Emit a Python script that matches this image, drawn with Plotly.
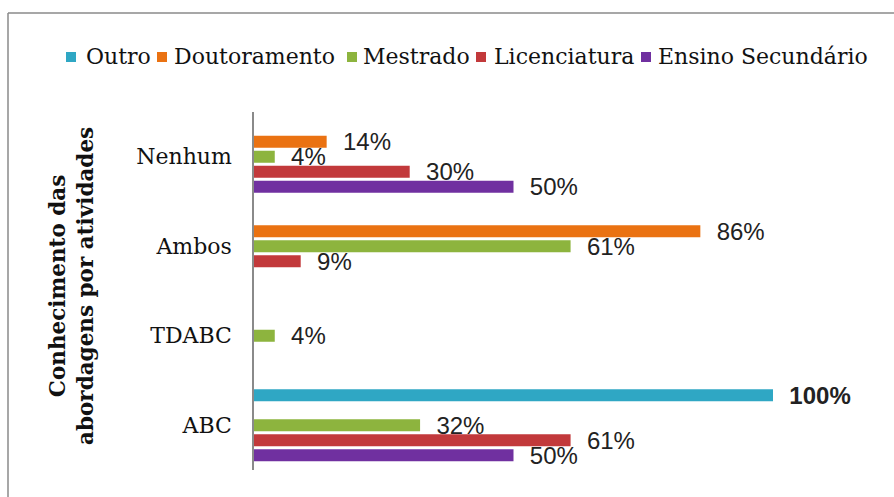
import plotly.graph_objects as go

# Knowledge of activity-based costing approaches, by education level
categories = ["ABC", "TDABC", "Ambos", "Nenhum"]

ensino_secundario = [0.50, None, None, 0.50]
licenciatura = [0.61, None, 0.09, 0.30]
mestrado = [0.32, 0.04, 0.61, 0.04]
doutoramento = [None, None, 0.86, 0.14]
outro = [1.00, None, None, None]

series_names = ["Ensino Secundário", "Licenciatura", "Mestrado", "Doutoramento", "Outro"]
series_values = [ensino_secundario, licenciatura, mestrado, doutoramento, outro]
series_colors = ["#7030A0", "#C2393B", "#8DB43E", "#EA7212", "#2FA7C4"]

W, H = 894, 497
ML, MR, MT, MB = 254, 121, 112, 27
pw, ph = W - ML - MR, H - MT - MB

SERIF = "DejaVu Serif"


def px_to_paper_x(px):
    return (px - ML) / pw


def px_to_paper_y(py):
    return (H - MB - py) / ph


fig = go.Figure()
for name, vals, color in zip(series_names, series_values, series_colors):
    fig.add_trace(go.Bar(
        y=categories,
        x=vals,
        name=name,
        orientation="h",
        marker=dict(color=color, line=dict(width=0)),
        texttemplate="\u00a0\u00a0%{x:.0%}",
        textposition="outside",
        constraintext="none",
        cliponaxis=False,
        textfont=dict(
            family="Liberation Sans",
            size=24,
            color="#222222",
            weight="bold" if name == "Outro" else "normal",
        ),
        hoverinfo="skip",
        showlegend=False,
    ))

# Legend row drawn as colour swatches + labels (Outro first, as listed on the chart)
legend_items = list(zip(series_names, series_colors))[::-1]
legend_swatch_x = [71, 162, 352, 481, 646]
legend_text_x = [84, 172, 361, 492, 656]
legend_y = 57
swatch = 10

shapes = []
annotations = []
for (name, color), sx, tx in zip(legend_items, legend_swatch_x, legend_text_x):
    shapes.append(dict(
        type="rect", xref="paper", yref="paper",
        x0=px_to_paper_x(sx - swatch / 2), x1=px_to_paper_x(sx + swatch / 2),
        y0=px_to_paper_y(legend_y + swatch / 2), y1=px_to_paper_y(legend_y - swatch / 2),
        fillcolor=color, line=dict(width=0),
    ))
    annotations.append(dict(
        text=name, xref="paper", yref="paper",
        x=px_to_paper_x(tx), y=px_to_paper_y(legend_y),
        xanchor="left", yanchor="middle", showarrow=False,
        font=dict(family=SERIF, size=22, color="#111111"),
    ))

# Axis title
annotations.append(dict(
    text="<b>Conhecimento das<br>abordagens por atividades</b>",
    xref="paper", yref="paper",
    x=px_to_paper_x(71), y=px_to_paper_y(286),
    xanchor="center", yanchor="middle",
    textangle=-90, showarrow=False,
    font=dict(family=SERIF, size=21.5, color="#111111"),
))

# Chart frame: top and left edges
shapes += [
    dict(type="line", xref="paper", yref="paper",
         x0=px_to_paper_x(8), x1=px_to_paper_x(W + 5),
         y0=px_to_paper_y(13), y1=px_to_paper_y(13),
         line=dict(color="#8a8a8a", width=1.5)),
    dict(type="line", xref="paper", yref="paper",
         x0=px_to_paper_x(8), x1=px_to_paper_x(8),
         y0=px_to_paper_y(13), y1=px_to_paper_y(H + 5),
         line=dict(color="#8a8a8a", width=1.5)),
]

fig.update_layout(
    width=W,
    height=H,
    margin=dict(l=ML, r=MR, t=MT, b=MB),
    paper_bgcolor="white",
    plot_bgcolor="white",
    barmode="group",
    bargap=0.16,
    bargroupgap=0.2,
    showlegend=False,
    xaxis=dict(
        range=[0, 1.0],
        visible=False,
        showgrid=False,
        zeroline=False,
    ),
    yaxis=dict(
        categoryorder="array",
        categoryarray=categories,
        showline=True,
        linecolor="#8a8a8a",
        linewidth=1.5,
        ticks="",
        showgrid=False,
        ticklabelstandoff=16,
        tickfont=dict(family=SERIF, size=22, color="#111111"),
    ),
    font=dict(family=SERIF),
    annotations=annotations,
    shapes=shapes,
)

fig.write_html("out.html")
